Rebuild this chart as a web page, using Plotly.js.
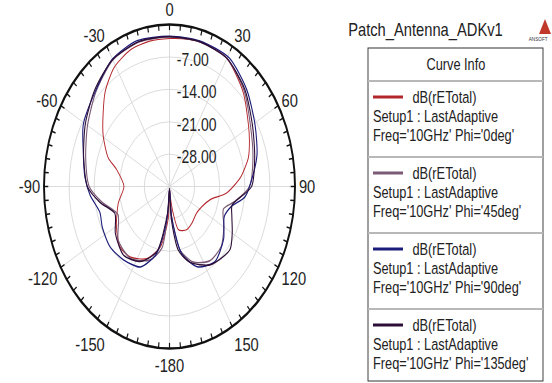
<!DOCTYPE html>
<html>
<head>
<meta charset="utf-8">
<script src="https://cdn.plot.ly/plotly-3.0.1.min.js"></script>
<style>
html, body { margin:0; padding:0; overflow:hidden; background:#fff; width:552px; height:383px; }
#wrap { width:552px; height:383px; overflow:hidden; position:relative; }
#plot { width:712px; height:383px; transform: scaleX(0.775281); transform-origin: 0 0; }
</style>
</head>
<body>
<div id="wrap"><div id="plot"></div></div>
<script>
// ---- data ----
const chartTitle = 'Patch_Antenna_ADKv1';
const legendHeader = 'Curve Info';
const curveNames = ["Freq='10GHz' Phi='0deg'", "Freq='10GHz' Phi='45deg'", "Freq='10GHz' Phi='90deg'", "Freq='10GHz' Phi='135deg'"];
const curveColors = ['#b3262b', '#7a5a76', '#1c1c7a', '#2c0e36'];

const theta0 = [-180,-177,-169,-158,-144,-133,-120,-104,-90,-76,-70,-59,-49,-41,-31,-20,-10,0,10,17,30,45,59,66,74,84,95,104,116,127,142,153,165,170,175,180];
const r0     = [-34.5,-28,-21.7,-18.2,-16.2,-16.0,-17.9,-20.3,-22.3,-19.8,-16.8,-13.4,-10.5,-7.7,-5.0,-3.5,-3.1,-3.0,-2.7,-2.5,-3.0,-6.0,-9.3,-10.6,-12.1,-15.0,-19.0,-23.3,-25.0,-25.5,-24.9,-24.5,-25.3,-29.1,-33,-34.5];

const theta45 = [-180,-175,-171,-161,-145,-129,-113,-100,-90,-75,-60,-45,-30,-15,0,15,30,45,60,75,90,100,108,120,132,145,158,168,175,180];
const r45     = [-34.5,-29,-21.5,-18.2,-16.0,-16.6,-19.4,-15.8,-12.6,-10.8,-8.6,-6.0,-3.4,-2.6,-2.7,-2.6,-3.0,-5.6,-8.9,-10.9,-12.7,-16.5,-19.2,-17.5,-15.6,-15.4,-17.4,-21,-28.5,-34.5];

const theta90 = [-180,-175,-170,-165,-155,-141,-128,-115,-106,-95,-85,-72,-61,-45,-30,-16,0,15,31,46,61,74,83,96,104,113,127,142,156,167,175,180];
const r90     = [-34.5,-29,-23.5,-19.5,-15.8,-14.6,-13.9,-14.3,-14.8,-12.8,-11.3,-9.7,-7.5,-5.8,-3.2,-2.2,-2.5,-2.4,-2.6,-5.0,-7.7,-9.6,-11.4,-13.8,-17.2,-18.4,-16.1,-14.4,-16.0,-20.2,-28.5,-34.5];

const theta135 = [-180,-175,-166,-153,-139,-124,-111,-100,-90,-75,-60,-45,-30,-15,0,15,30,45,60,75,90,103,110,120,129,146,161,170,176,180];
const r135     = [-34.5,-29.5,-20.5,-16.8,-15.4,-16.8,-18.7,-15.3,-12.1,-10.2,-7.9,-5.5,-3.3,-2.5,-2.6,-2.6,-3.0,-5.3,-8.3,-10.4,-12.1,-17.1,-16.5,-14.8,-13.3,-14.6,-17.7,-21.1,-28,-34.5];

const angTickVals = [0,30,60,90,120,150,180,210,240,270,300,330];
const angTickText = ['0','30','60','90','120','150','-180','-150','-120','-90','-60','-30'];
const radTickVals = [-28,-21,-14,-7];
const radTickText = ['-28.00','-21.00','-14.00','-7.00'];
const radRange = [-35, 0];

const thetas = [theta0, theta45, theta90, theta135];
const rs = [r0, r45, r90, r135];
const lineWidths = [1.2, 1.4, 1.4, 1.4];

// ---- helpers: reference pixel -> paper ----
const PX = x => x / 552;
const PY = y => 1 - y / 383;
const FONT = 'Liberation Sans, Arial, sans-serif';

const traces = thetas.map((th, i) => ({
  type: 'scatterpolar', subplot: 'polar', mode: 'lines',
  theta: th, r: rs[i], name: curveNames[i],
  line: {color: curveColors[i], width: lineWidths[i], shape: 'spline', smoothing: 0.7},
  showlegend: false, hoverinfo: 'skip'
}));
// invisible carrier so the tick-overlay subplot is built
traces.push({type:'scatterpolar', subplot:'polar2', mode:'lines', theta: theta0, r: r0,
  line:{width:0, color:'rgba(0,0,0,0)'}, opacity:0, showlegend:false, hoverinfo:'skip'});

const dom = {x:[PX(44), PX(295)], y:[PY(348.5), PY(24.5)]};

const shapes = [];
const annotations = [];
// legend box
shapes.push({type:'rect', xref:'paper', yref:'paper', x0:PX(368), x1:PX(543), y0:PY(381), y1:PY(48), line:{color:'#333', width:1.2}, fillcolor:'#fff', layer:'below'});
shapes.push({type:'line', xref:'paper', yref:'paper', x0:PX(368), x1:PX(543), y0:PY(81), y1:PY(81), line:{color:'#b8b8b8', width:2}});
annotations.push({xref:'paper', yref:'paper', x:PX(455.5), y:PY(64), text:legendHeader, showarrow:false, xanchor:'center', yanchor:'middle', font:{family:FONT, size:16.5, color:'#222'}});
curveNames.forEach((nm, i) => {
  const e0 = 81 + 76 * i;
  if (i > 0) shapes.push({type:'line', xref:'paper', yref:'paper', x0:PX(368), x1:PX(543), y0:PY(e0), y1:PY(e0), line:{color:'#b8b8b8', width:2}});
  shapes.push({type:'line', xref:'paper', yref:'paper', x0:PX(373), x1:PX(403), y0:PY(e0+16), y1:PY(e0+16), line:{color:curveColors[i], width:3}});
  annotations.push({xref:'paper', yref:'paper', x:PX(411), y:PY(e0+16), text:'dB(rETotal)', showarrow:false, xanchor:'left', yanchor:'middle', font:{family:FONT, size:16.5, color:'#222'}});
  annotations.push({xref:'paper', yref:'paper', x:PX(371), y:PY(e0+35), text:'Setup1 : LastAdaptive', showarrow:false, xanchor:'left', yanchor:'middle', font:{family:FONT, size:16.5, color:'#222'}});
  annotations.push({xref:'paper', yref:'paper', x:PX(371), y:PY(e0+54), text:nm, showarrow:false, xanchor:'left', yanchor:'middle', font:{family:FONT, size:16.5, color:'#222'}});
});
// title
annotations.push({xref:'paper', yref:'paper', x:PX(426), y:PY(30), text:chartTitle, showarrow:false, xanchor:'center', yanchor:'middle', font:{family:FONT, size:19, color:'#222'}});
// ANSOFT logo
shapes.push({type:'path', xref:'paper', yref:'paper', path:`M ${PX(545)} ${PY(19)} L ${PX(551)} ${PY(34)} L ${PX(539)} ${PY(34)} Z`, fillcolor:'#c0392b', line:{width:0}});
annotations.push({xref:'paper', yref:'paper', x:PX(527), y:PY(38.5), text:'ANSOFT', showarrow:false, xanchor:'left', yanchor:'middle', font:{family:FONT, size:6, color:'#333'}});

const layout = {
  width: 712, height: 383,
  margin: {l:0, r:0, t:0, b:0},
  paper_bgcolor: '#fff',
  showlegend: false,
  font: {family: FONT, color:'#222'},
  polar: {
    domain: dom, bgcolor: '#fff',
    angularaxis: {rotation: 90, direction: 'clockwise', tickmode: 'array', tickvals: angTickVals, ticktext: angTickText,
      showline: true, linecolor: '#111', linewidth: 2.5, gridcolor: '#d6d6d6', gridwidth: 1, ticks: '',
      tickfont: {family: FONT, size: 19, color: '#222'}},
    radialaxis: {range: radRange, tickmode: 'array', tickvals: radTickVals, ticktext: radTickText, angle: 90, side: 'clockwise',
      showline: false, gridcolor: '#d6d6d6', gridwidth: 1, ticks: '', tickfont: {family: FONT, size: 18, color: '#222'}}
  },
  polar2: {
    domain: dom, bgcolor: 'rgba(0,0,0,0)',
    angularaxis: {rotation: 90, direction: 'clockwise', tickmode: 'linear', tick0: 0, dtick: 5, ticks: 'inside', ticklen: 5,
      tickwidth: 1.5, tickcolor: '#111', showticklabels: false, showgrid: false, showline: false},
    radialaxis: {visible: false, range: radRange}
  },
  shapes: shapes,
  annotations: annotations
};

Plotly.newPlot('plot', traces, layout, {staticPlot: true, displayModeBar: false});
</script>
</body>
</html>
